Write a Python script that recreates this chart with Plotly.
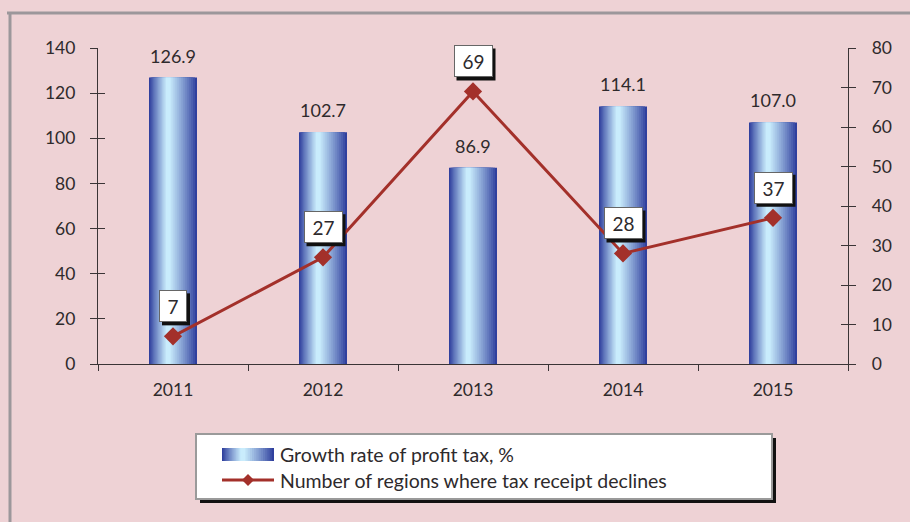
import plotly.graph_objects as go

# ---- data ----
years = ["2011", "2012", "2013", "2014", "2015"]
growth_rate = [126.9, 102.7, 86.9, 114.1, 107.0]
regions_decline = [7, 27, 69, 28, 37]
left_ticks = [0, 20, 40, 60, 80, 100, 120, 140]
right_ticks = [0, 10, 20, 30, 40, 50, 60, 70, 80]
series_names = ["Growth rate of profit tax, %", "Number of regions where tax receipt declines"]

# ---- style ----
W, H = 910, 522
L, R, T, B = 98, 62, 48, 158
BG = "#eed2d5"
TXT = "#2e2a2c"
AX = "#3a3436"
RED = "#a3302a"
FONT = "Lato"
dark = (48, 64, 158)
light = (201, 236, 252)

def mix(c1, c2, t):
    return "rgb(%d,%d,%d)" % tuple(round(a + (b - a) * t) for a, b in zip(c1, c2))

def px(x):
    return (x - L) / (W - L - R)

def py(y):
    return (H - B - y) / (H - T - B)

fig = go.Figure()

# gradient bars: nested overlaid bar layers
bw = 0.32
N = 14
for i in range(N):
    s = 0.9 * i / (N - 1)
    left = -0.11 * bw - 0.39 * bw * (1 - s)
    right = -0.11 * bw + 0.61 * bw * (1 - s)
    t = (i / (N - 1)) ** 0.9
    fig.add_trace(go.Bar(
        x=years, y=growth_rate, width=right - left, offset=left,
        marker=dict(color=mix(dark, light, t), line=dict(width=0)),
        showlegend=False, hoverinfo="skip", yaxis="y"))

# line
fig.add_trace(go.Scatter(
    x=years, y=regions_decline, yaxis="y2", mode="lines+markers",
    line=dict(color=RED, width=3),
    marker=dict(symbol="diamond", size=14, color=RED),
    showlegend=False, hoverinfo="skip"))

# dummy traces for inside-tick overlay axes
fig.add_trace(go.Scatter(x=years, y=[None] * 5, yaxis="y3", showlegend=False, hoverinfo="skip"))
fig.add_trace(go.Scatter(x=years, y=[None] * 5, yaxis="y4", showlegend=False, hoverinfo="skip"))

annotations = []
shapes = []
# bar value labels
for i, v in enumerate(growth_rate):
    annotations.append(dict(x=i, y=v, xref="x", yref="y", text="%.1f" % v,
                            showarrow=False, yanchor="bottom", yshift=9,
                            font=dict(size=18, color=TXT, family=FONT)))
# line value labels: white boxes with a black drop shadow
BOX_H = 20
for i, v in enumerate(regions_decline):
    tw = 11 * len(str(v)) + 5
    full_w = tw + 12
    full_h = BOX_H + 12
    shapes.append(dict(type="rect", xref="x", yref="y2", xsizemode="pixel", ysizemode="pixel",
                       xanchor=i, yanchor=v,
                       x0=-full_w / 2 + 3, x1=full_w / 2 + 3,
                       y0=30 - 3 - full_h / 2, y1=30 - 3 + full_h / 2,
                       fillcolor="#111", line=dict(width=0), layer="above"))
    annotations.append(dict(x=i, y=v, xref="x", yref="y2", text=str(v),
                            showarrow=False, yshift=30, width=tw, height=BOX_H,
                            bgcolor="white", borderpad=5, bordercolor="#666", borderwidth=1,
                            font=dict(size=19, color=TXT, family=FONT)))

# outer frame (top + left)
shapes.append(dict(type="line", xref="paper", yref="paper", x0=px(7), x1=px(912), y0=py(13), y1=py(13),
                   line=dict(color="#9c979b", width=3)))
shapes.append(dict(type="line", xref="paper", yref="paper", x0=px(10), x1=px(10), y0=py(12), y1=py(525),
                   line=dict(color="#9c979b", width=3)))

# manual legend
lx0, lx1, ly0, ly1 = 196, 772, 434, 499
shapes.append(dict(type="rect", xref="paper", yref="paper", x0=px(lx0 + 4), x1=px(lx1 + 4),
                   y0=py(ly0 + 4), y1=py(ly1 + 4), fillcolor="#111", line=dict(width=0)))
shapes.append(dict(type="rect", xref="paper", yref="paper", x0=px(lx0), x1=px(lx1),
                   y0=py(ly0), y1=py(ly1), fillcolor="white", line=dict(color="#9a9a9a", width=2)))
# gradient swatch
sx0, sx1, sy0, sy1 = 222, 274, 448, 461
M = 14
for i in range(M):
    s = 0.9 * i / (M - 1)
    c = sx0 + 0.39 * (sx1 - sx0)
    a = c - 0.39 * (sx1 - sx0) * (1 - s)
    b = c + 0.61 * (sx1 - sx0) * (1 - s)
    t = (i / (M - 1)) ** 0.9
    shapes.append(dict(type="rect", xref="paper", yref="paper", x0=px(a), x1=px(b),
                       y0=py(sy0), y1=py(sy1), fillcolor=mix(dark, light, t), line=dict(width=0)))
# line swatch
shapes.append(dict(type="line", xref="paper", yref="paper", x0=px(222), x1=px(274), y0=py(480), y1=py(480),
                   line=dict(color=RED, width=3)))
dcx, dcy, dr = 248, 480, 6
shapes.append(dict(type="path", xref="paper", yref="paper",
                   path="M %f,%f L %f,%f L %f,%f L %f,%f Z" % (
                       px(dcx), py(dcy - dr), px(dcx + dr), py(dcy), px(dcx), py(dcy + dr), px(dcx - dr), py(dcy)),
                   fillcolor=RED, line=dict(width=0)))
annotations.append(dict(x=px(278), y=py(454), xref="paper", yref="paper", text=series_names[0],
                        showarrow=False, xanchor="left", yanchor="middle",
                        font=dict(size=19.5, color=TXT, family=FONT)))
annotations.append(dict(x=px(278), y=py(480), xref="paper", yref="paper", text=series_names[1],
                        showarrow=False, xanchor="left", yanchor="middle",
                        font=dict(size=19.5, color=TXT, family=FONT)))

fig.update_layout(
    width=W, height=H,
    margin=dict(l=L, r=R, t=T, b=B),
    paper_bgcolor=BG, plot_bgcolor=BG,
    barmode="overlay",
    showlegend=False,
    font=dict(family=FONT, size=17, color=TXT),
    xaxis=dict(type="category", showgrid=False, showline=True, linecolor=AX, linewidth=1.3,
               ticks="outside", ticklen=6, tickcolor=AX, tickson="boundaries",
               tickfont=dict(size=17.5, color=TXT), range=[-0.5, 4.5], zeroline=False,
               ticklabelstandoff=10),
    yaxis=dict(range=[0, 140], tickvals=left_ticks, showgrid=False, zeroline=False,
               showline=True, linecolor=AX, linewidth=1.3, ticks="outside", ticklen=7,
               tickcolor=AX, tickfont=dict(size=17.5, color=TXT), ticklabelstandoff=11),
    yaxis2=dict(range=[0, 80], tickvals=right_ticks, overlaying="y", side="right", showgrid=False,
                zeroline=False, showline=True, linecolor=AX, linewidth=1.3, ticks="outside", ticklen=7,
                tickcolor=AX, tickfont=dict(size=17.5, color=TXT), ticklabelstandoff=12),
    yaxis3=dict(range=[0, 140], tickvals=left_ticks, overlaying="y", side="left", showgrid=False,
                zeroline=False, showline=False, ticks="inside", ticklen=7, tickcolor=AX,
                showticklabels=False),
    yaxis4=dict(range=[0, 80], tickvals=right_ticks, overlaying="y", side="right", showgrid=False,
                zeroline=False, showline=False, ticks="inside", ticklen=7, tickcolor=AX,
                showticklabels=False),
    annotations=annotations,
    shapes=shapes,
)

fig.write_html("out.html", config={"displayModeBar": False},
               post_script="document.body.style.margin='0';document.body.style.overflow='hidden';")
